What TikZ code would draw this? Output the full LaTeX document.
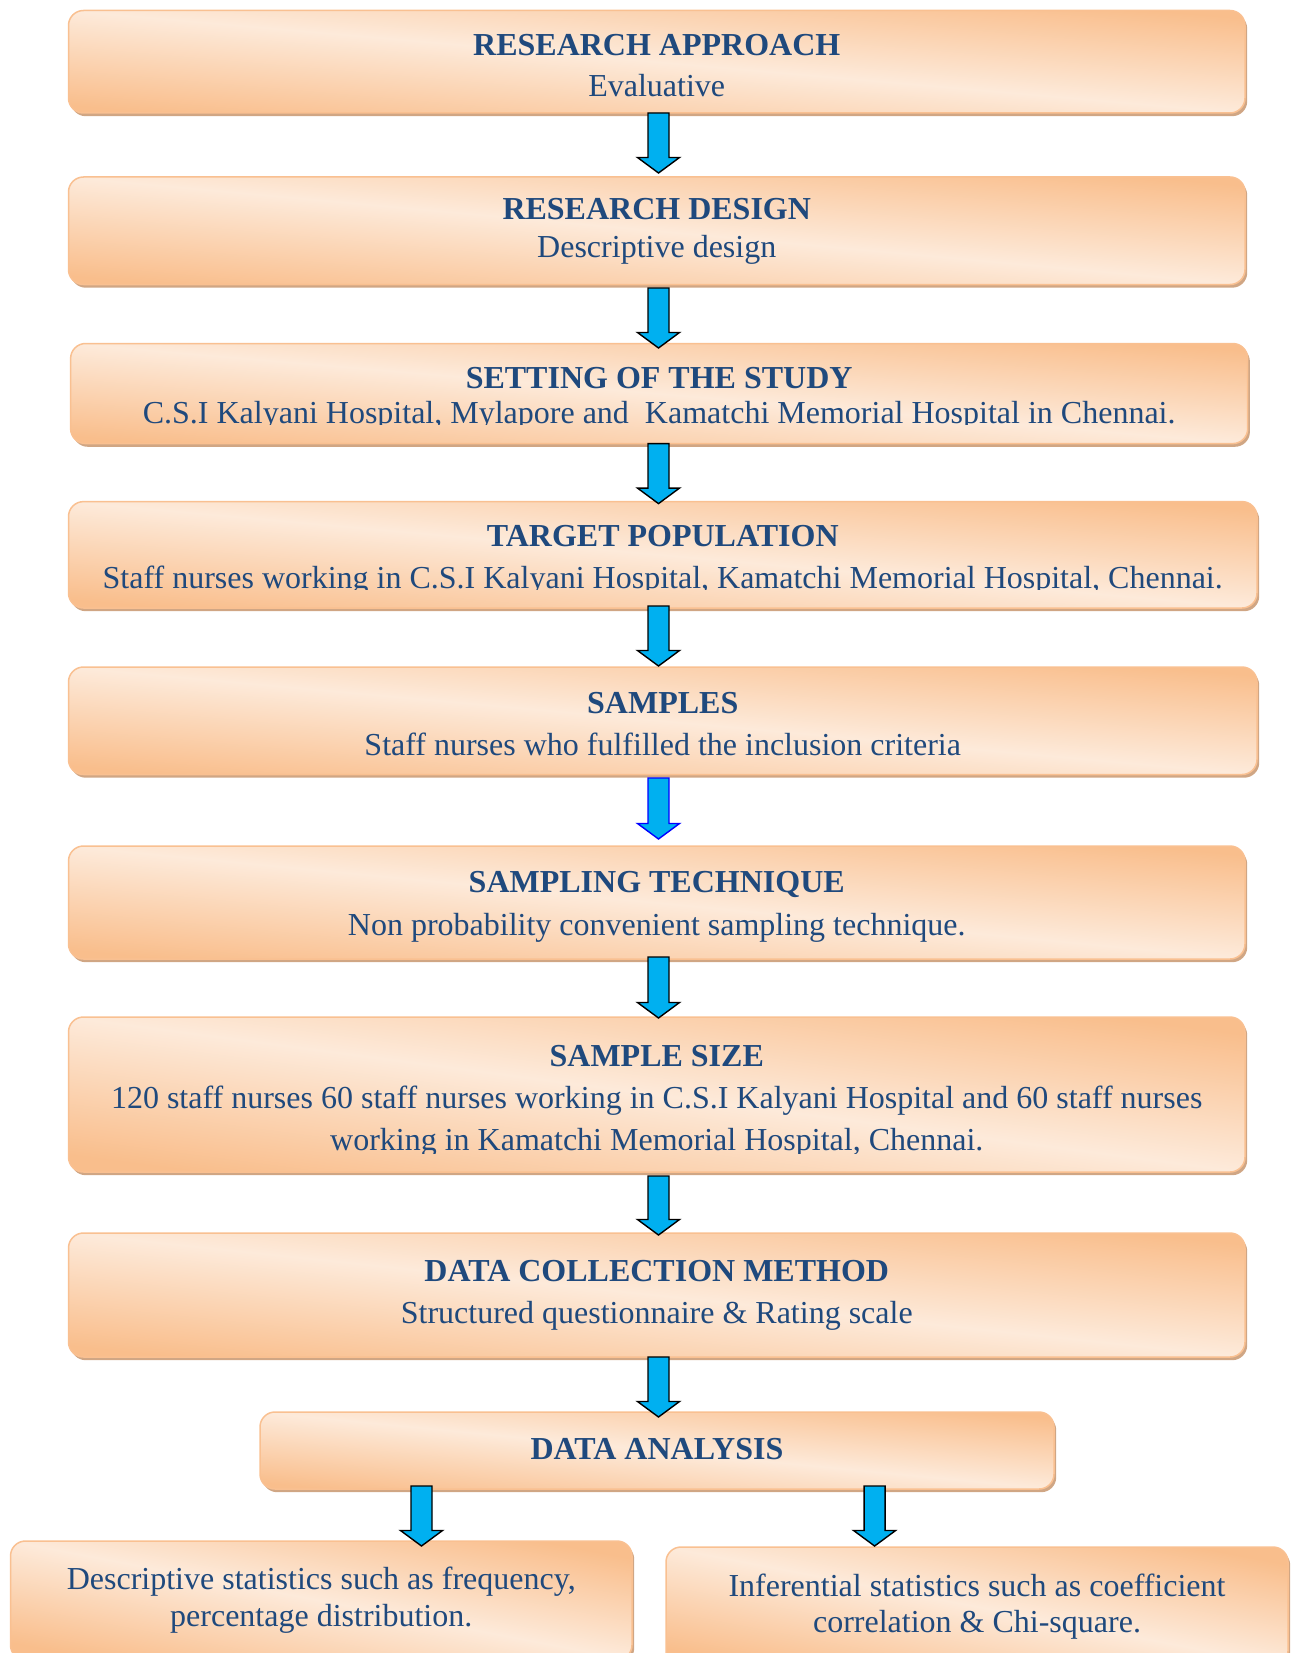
\documentclass[tikz,border=0pt]{standalone}
\usepackage{fontspec}
\setmainfont{Liberation Serif}
\usetikzlibrary{calc,shadows}
\definecolor{boxdark}{RGB}{249,190,140}
\definecolor{boxlight}{RGB}{253,234,218}
\definecolor{boxline}{RGB}{249,192,145}
\definecolor{shadowc}{RGB}{208,166,132}
\definecolor{txtblue}{RGB}{31,73,125}
\definecolor{arrowcyan}{RGB}{0,176,240}
\definecolor{arrowblue}{RGB}{0,0,255}
\tikzset{
  flowbox/.style={draw=boxline, line width=0.75pt, rounded corners=7.5pt,
    top color=boxdark, bottom color=boxdark, middle color=boxlight,
    drop shadow={shadow xshift=1.1pt, shadow yshift=-1.6pt, fill=shadowc, opacity=1},
    inner sep=0pt, outer sep=0pt},
  flowtext/.style={text=txtblue, align=center, font=\fontsize{16}{#1}\selectfont, inner sep=0pt},
  flowtext/.default=20.5,
  blockarrow/.style={fill=arrowcyan, draw=black, line width=0.7pt, line join=miter},
  bluearrow/.style={blockarrow, draw=arrowblue},
}
\newcommand\mkbox[5]{%
  \pgfmathsetmacro\bxang{-atan((#5)/(#4))}%
  \node[flowbox, shading angle=\bxang, minimum width=#4*0.5pt, minimum height=#5*0.5pt] (#1) at (#2,#3) {};}
% text clipped near the bottom of its box
\newcommand\mkcliptext[5][flowtext]{%
  \begin{scope}
  \clip ($(#3.north west)+(-5,-5)$) rectangle ($(#3.south east)+(5,-19)$);
  \node[#1] (#2) at ($(#3.center)+(0,#4)$) {#5};
  \end{scope}}
\newcommand\mktext[5][flowtext]{%
  \node[#1] (#2) at ($(#3.center)+(0,#4)$) {#5};}
\newcommand\mkarrow[3][blockarrow]{%
  \path[#1] let \p1=(#2), \p2=(#3) in
    (\x1-5.25pt,\y1) -- (\x1+5.25pt,\y1) -- (\x1+5.25pt,\y2+7.75pt) -- (\x1+10.5pt,\y2+7.75pt)
    -- (\x1,\y2) -- (\x1-10.5pt,\y2+7.75pt) -- (\x1-5.25pt,\y2+7.75pt) -- cycle;}
\begin{document}
\begin{tikzpicture}[x=0.5pt,y=-0.5pt]
\useasboundingbox (0,0) rectangle (1293,1653);
% boxes
\mkbox{b1}{656.75}{61.75}{1176.5}{102.5}
\mkbox{b2}{656.75}{230.75}{1176.5}{107.5}
\mkbox{b3}{659.15}{393.55}{1177.1}{100.1}
\mkbox{b4}{662.75}{554.8}{1188.5}{106.4}
\mkbox{b5}{662.75}{720.75}{1188.5}{107.5}
\mkbox{b6}{656.75}{902.5}{1176.5}{113}
\mkbox{b7}{656.75}{1094.5}{1176.5}{155}
\mkbox{b8}{656.75}{1295}{1176.5}{124}
\mkbox{b9}{657}{1450.5}{794}{77}
\mkbox{b10}{321.25}{1600.5}{621.5}{119}
\mkbox{b11}{977}{1606.5}{622}{119}
% texts
\mktext[flowtext=20.5]{t1}{b1}{4.2}{\textbf{RESEARCH APPROACH}\\Evaluative}
\mktext[flowtext=19]{t2}{b2}{1}{\textbf{RESEARCH DESIGN}\\Descriptive design}
\mkcliptext[flowtext=17.9]{t3}{b3}{5.3}{\textbf{SETTING OF THE STUDY}\\C.S.I Kalyani Hospital, Mylapore and\ \ Kamatchi Memorial Hospital in Chennai.}
\mkcliptext[flowtext=21.1]{t4}{b4}{5.8}{\textbf{TARGET POPULATION}\\Staff nurses working in C.S.I Kalyani Hospital, Kamatchi Memorial Hospital, Chennai.}
\mktext[flowtext=21.1]{t5}{b5}{3.7}{\textbf{SAMPLES}\\Staff nurses who fulfilled the inclusion criteria}
\mktext[flowtext=21.6]{t6}{b6}{4.2}{\textbf{SAMPLING TECHNIQUE}\\Non probability convenient sampling technique.}
\mkcliptext[flowtext=21.1]{t7}{b7}{6.9}{\textbf{SAMPLE SIZE}\\120 staff nurses 60 staff nurses working in C.S.I Kalyani Hospital and 60 staff nurses\\working in Kamatchi Memorial Hospital, Chennai.}
\mktext[flowtext=21.1]{t8}{b8}{0}{\textbf{DATA COLLECTION METHOD}\\Structured questionnaire \& Rating scale}
\mktext{t9}{b9}{-1}{\textbf{DATA ANALYSIS}}
\mktext[flowtext=18.2]{t10}{b10}{-0.3}{Descriptive statistics such as frequency,\\percentage distribution.}
\mktext[flowtext=18.2]{t11}{b11}{0.3}{Inferential statistics such as coefficient\\correlation \& Chi-square.}
% arrows
\coordinate (ax) at (658.5,0);
\coordinate (lx) at (421.5,0);
\coordinate (rx) at (874.6,0);
\mkarrow{ax |- b1.south}{$(ax |- b2.north)+(0,-4)$}
\mkarrow{$(ax |- b2.south)+(0,3.5)$}{$(ax |- b3.north)+(0,4.5)$}
\mkarrow{ax |- b3.south}{$(ax |- b4.north)+(0,2)$}
\mkarrow{$(ax |- b4.south)+(0,-2)$}{$(ax |- b5.north)+(0,-1)$}
\mkarrow[bluearrow]{$(ax |- b5.south)+(0,3.5)$}{$(ax |- b6.north)+(0,-7)$}
\mkarrow{$(ax |- b6.south)+(0,-2)$}{$(ax |- b7.north)+(0,1)$}
\mkarrow{$(ax |- b7.south)+(0,4)$}{$(ax |- b8.north)+(0,2)$}
\mkarrow{ax |- b8.south}{$(ax |- b9.north)+(0,5)$}
\mkarrow{$(lx |- b9.south)+(0,-3)$}{$(lx |- b10.north)+(0,5)$}
\mkarrow{$(rx |- b9.south)+(0,-3)$}{$(rx |- b11.north)+(0,-1)$}
\end{tikzpicture}
\end{document}
